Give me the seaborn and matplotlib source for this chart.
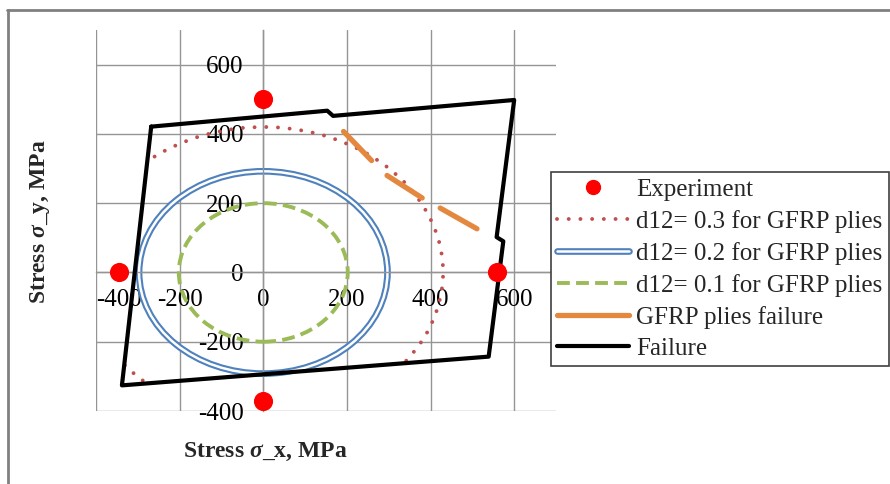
import numpy as np
import pandas as pd
import matplotlib
matplotlib.use("Agg")
import matplotlib.pyplot as plt
from matplotlib.patches import Arc, Ellipse
from matplotlib.lines import Line2D
import seaborn as sns

# experiment points
exp_x = [0, -345, 560, 0]
exp_y = [500, 0, 0, -370]

# failure envelope (closed polygon)
fail_x = [-268, 153, 167, 600, 558, 574, 539, -338, -268]
fail_y = [421, 467, 452, 498, 102, 90, -243, -326, 421]

# GFRP plies failure, three visible pieces
gfrp_seg = [0, 0, 1, 1, 2, 2]
gfrp_x = [192, 259, 296, 380, 423, 511]
gfrp_y = [407, 323, 280, 215, 186, 126]

# d12 curves: semi-axes and visible angle spans (deg)
d03_rx, d03_ry = 430, 420
d03_spans = [(-36.7, 131.0), (219.0, 230.0)]
d02_rx, d02_ry = 297, 292
d01_rx, d01_ry = 202, 200

x_ticks = [-400, -200, 0, 200, 400, 600]
y_ticks = [-400, -200, 0, 200, 400, 600]

labels = ["Experiment", "d12= 0.3 for GFRP plies", "d12= 0.2 for GFRP plies",
          "d12= 0.1 for GFRP plies", "GFRP plies failure", "Failure"]

sns.set_style("white")
plt.rcParams["font.family"] = ["Liberation Serif", "DejaVu Serif"]
plt.rcParams["mathtext.fontset"] = "custom"
plt.rcParams["mathtext.rm"] = "Liberation Serif:bold"
plt.rcParams["mathtext.it"] = "Liberation Serif:italic:bold"

c_red = "#C0504D"
c_blue = "#4F81BD"
c_green = "#9BBB59"
c_orange = "#E3883E"
c_grid = "#959595"

fig = plt.figure(figsize=(8.9, 4.84), dpi=100)
ax = fig.add_axes([96 / 890, 1 - 411 / 484, 460 / 890, 381 / 484])
ax.set_xlim(-400, 700)
ax.set_ylim(-400, 700)
ax.set_xticks(x_ticks)
ax.set_yticks(y_ticks)
ax.set_xticklabels([str(v) for v in x_ticks])
ax.set_yticklabels([str(v) for v in y_ticks])
ax.grid(True, color=c_grid, lw=1)
ax.set_axisbelow(True)
for s in ["top", "right"]:
    ax.spines[s].set_visible(False)
for s in ["left", "bottom"]:
    ax.spines[s].set_position(("data", 0))
    ax.spines[s].set_color(c_grid)
    ax.spines[s].set_linewidth(1)
ax.tick_params(axis="x", length=0, labelsize=18, pad=12, colors="black")
ax.tick_params(axis="y", length=0, labelsize=18, pad=14, colors="black")
ax.get_xticklabels()[0].set_horizontalalignment("left")

# d12 = 0.2 (double line)
ax.add_patch(Ellipse((0, 0), 2 * d02_rx, 2 * d02_ry, fill=False, ec=c_blue, lw=4.8, zorder=2))
ax.add_patch(Ellipse((0, 0), 2 * d02_rx, 2 * d02_ry, fill=False, ec="white", lw=1.8, zorder=2))
# d12 = 0.1
ax.add_patch(Ellipse((0, 0), 2 * d01_rx, 2 * d01_ry, fill=False, ec=c_green, lw=2.8,
                     ls=(0, (3.3, 1.6)), zorder=3))
# d12 = 0.3
for t1, t2 in d03_spans:
    ax.add_patch(Arc((0, 0), 2 * d03_rx, 2 * d03_ry, theta1=t1, theta2=t2, ec=c_red, lw=2.8,
                     ls=(0, (0.01, 3)), capstyle="round", zorder=3))

df_g = pd.DataFrame({"x": gfrp_x, "y": gfrp_y, "seg": gfrp_seg})
sns.lineplot(data=df_g, x="x", y="y", units="seg", estimator=None, sort=False,
             color=c_orange, lw=3.8, solid_capstyle="round", legend=False, ax=ax, zorder=4)

sns.lineplot(x=fail_x, y=fail_y, sort=False, estimator=None, color="black", lw=3,
             solid_joinstyle="round", legend=False, ax=ax, zorder=5)

sns.scatterplot(x=exp_x, y=exp_y, color="red", s=190, linewidth=0, legend=False, ax=ax, zorder=6)

ax.set_xlabel("")
ax.set_ylabel("")

fig.text(265 / 890, 1 - 452 / 484, r"Stress $\sigma$_x, MPa", ha="center", va="center",
         fontsize=17, fontweight="bold")
fig.text(40 / 890, 1 - 222 / 484, r"Stress $\sigma$_y, MPa", ha="center", va="center",
         fontsize=17, fontweight="bold", rotation=90)

handles = [
    Line2D([], [], marker="o", color="red", ls="none", markersize=10),
    Line2D([], [], color=c_red, lw=2.8, ls=(0, (0.01, 3)), dash_capstyle="round"),
    (Line2D([], [], color=c_blue, lw=4.8), Line2D([], [], color="white", lw=1.8)),
    Line2D([], [], color=c_green, lw=2.8, ls=(0, (3.3, 1.6))),
    Line2D([], [], color=c_orange, lw=3.8, solid_capstyle="round"),
    Line2D([], [], color="black", lw=3),
]
leg = fig.legend(handles, labels, loc="upper left", bbox_to_anchor=(551 / 890, 1 - 172 / 484),
                 frameon=True, fancybox=False, edgecolor="#404040", framealpha=1,
                 prop={"family": "Liberation Serif", "size": 18}, handlelength=2.85,
                 handletextpad=0.3, labelspacing=0.36, borderpad=0.25, borderaxespad=0)
leg.get_frame().set_linewidth(1.2)

# outer chart frame
fig.add_artist(Line2D([7 / 890, 1], [1 - 10 / 484] * 2, transform=fig.transFigure,
                      color="#808080", lw=2))
fig.add_artist(Line2D([8 / 890] * 2, [0, 1 - 10 / 484], transform=fig.transFigure,
                      color="#808080", lw=2))

fig.savefig("out.png", dpi=100)
